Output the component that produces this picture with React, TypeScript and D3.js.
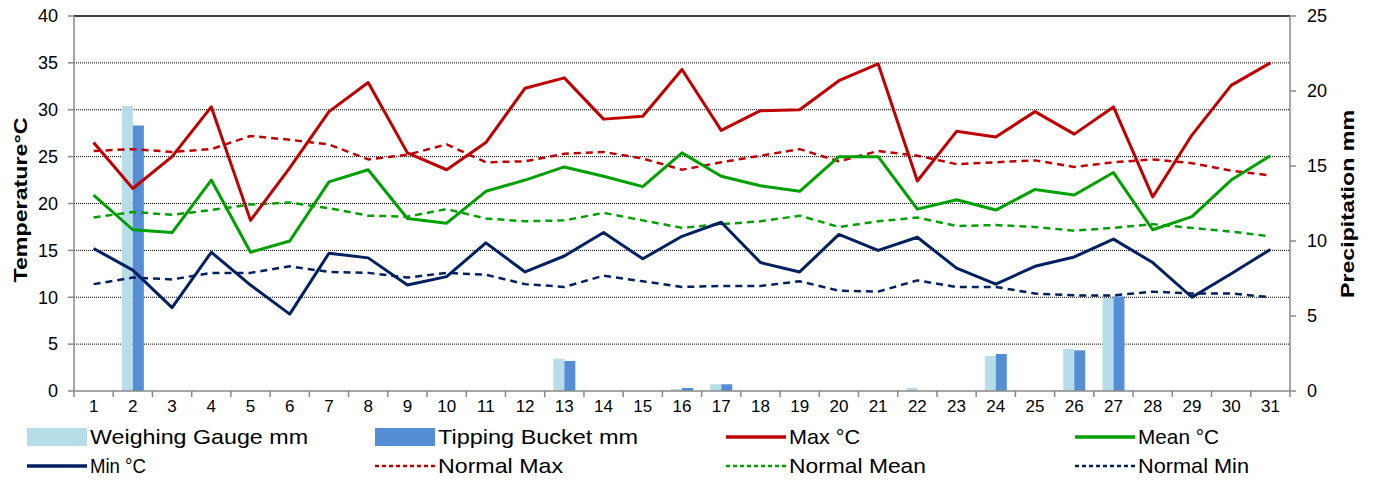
import React from "react";
import * as d3 from "d3";

const days = d3.range(1, 32).map(String);
const maxT = [26.5,21.6,25.0,30.3,18.2,23.8,29.8,32.9,25.4,23.6,26.5,32.3,33.4,29.0,29.3,34.3,27.8,29.9,30.0,33.1,34.9,22.4,27.7,27.1,29.8,27.4,30.3,20.7,27.3,32.6,35.0];
const meanT = [20.9,17.2,16.9,22.5,14.8,16.0,22.3,23.6,18.4,17.9,21.3,22.5,23.9,22.9,21.8,25.4,22.9,21.9,21.3,25.0,25.0,19.4,20.4,19.3,21.5,20.9,23.3,17.2,18.6,22.5,25.1];
const minT = [15.2,12.9,8.9,14.8,11.3,8.2,14.7,14.2,11.3,12.2,15.8,12.7,14.4,16.9,14.1,16.5,18.0,13.7,12.7,16.7,15.0,16.4,13.1,11.4,13.3,14.3,16.2,13.7,10.0,12.5,15.1];
const normMax = [25.6,25.8,25.5,25.8,27.2,26.8,26.3,24.7,25.2,26.3,24.4,24.5,25.3,25.5,24.8,23.6,24.4,25.1,25.8,24.5,25.6,25.1,24.2,24.4,24.6,23.9,24.4,24.7,24.3,23.5,23.0];
const normMean = [18.5,19.1,18.8,19.3,19.9,20.1,19.5,18.7,18.6,19.4,18.4,18.1,18.2,19.0,18.2,17.4,17.8,18.1,18.7,17.5,18.1,18.5,17.6,17.7,17.5,17.1,17.4,17.8,17.4,17.0,16.5];
const normMin = [11.4,12.1,11.9,12.6,12.6,13.3,12.7,12.6,12.1,12.6,12.4,11.4,11.1,12.3,11.7,11.1,11.2,11.2,11.7,10.7,10.6,11.8,11.1,11.1,10.4,10.2,10.2,10.6,10.4,10.4,10.0];
const weighing = [0,19.0,0,0,0,0,0,0,0,0,0,0,2.15,0,0,0.13,0.45,0,0,0,0,0.2,0,2.33,0,2.8,6.2,0,0,0,0];
const tipping = [0,17.7,0,0,0,0,0,0,0,0,0,0,2.0,0,0,0.2,0.45,0,0,0,0,0,0,2.47,0,2.71,6.3,0,0,0,0];
const tempTicks = [0,5,10,15,20,25,30,35,40];
const precTicks = [0,5,10,15,20,25];

const W = 1379, H = 483;
const L = 74, R = 1290, T = 16, B = 391;
const font = "Arial, 'Liberation Sans', sans-serif";

const C = {
  weigh: "#b7dde8", tip: "#558ed5", max: "#c00000", mean: "#00a000", min: "#002060",
};

export default function App() {
  const x = d3.scaleBand<string>().domain(days).range([L, R]).paddingInner(0).paddingOuter(0);
  const yT = d3.scaleLinear().domain([0, 40]).range([B, T]);
  const yP = d3.scaleLinear().domain([0, 25]).range([B, T]);
  const bw = 11;
  const cx = (i: number) => (x(days[i]) as number) + x.bandwidth() / 2;
  const line = d3.line<number>().x((_, i) => cx(i)).y((d) => yT(d));

  const lines = [
    { d: normMax, c: C.max, dash: "7,5", w: 2.5 },
    { d: normMean, c: C.mean, dash: "7,5", w: 2.5 },
    { d: normMin, c: C.min, dash: "7,5", w: 2.5 },
    { d: maxT, c: C.max, dash: undefined, w: 3 },
    { d: meanT, c: C.mean, dash: undefined, w: 3 },
    { d: minT, c: C.min, dash: undefined, w: 3 },
  ];

  const legend = [
    { label: "Weighing Gauge mm", type: "rect", c: C.weigh, x: 27, y: 437, len: 218 },
    { label: "Tipping Bucket mm", type: "rect", c: C.tip, x: 375, y: 437, len: 200 },
    { label: "Max °C", type: "line", c: C.max, x: 726, y: 437, len: 71 },
    { label: "Mean °C", type: "line", c: C.mean, x: 1075, y: 437, len: 81 },
    { label: "Min °C", type: "line", c: C.min, x: 27, y: 466, len: 56 },
    { label: "Normal Max", type: "dash", c: C.max, x: 375, y: 466, len: 125 },
    { label: "Normal Mean", type: "dash", c: C.mean, x: 726, y: 466, len: 137 },
    { label: "Normal Min", type: "dash", c: C.min, x: 1075, y: 466, len: 111 },
  ];

  return (
    <svg width={W} height={H} style={{ position: "absolute", left: 0, top: 0, fontFamily: font }}>
      <rect width={W} height={H} fill="#fff" />
      {tempTicks.filter((t) => t > 0 && t < 40).map((t) => (
        <line key={t} x1={L} x2={R} y1={yT(t)} y2={yT(t)} stroke="#000" strokeWidth={1} strokeDasharray="1,1" />
      ))}
      <line x1={L} x2={R} y1={T} y2={T} stroke="#000" strokeWidth={1.5} />
      {days.map((d, i) => (
        <g key={d}>
          {weighing[i] > 0 && (
            <rect x={cx(i) - bw} y={yP(weighing[i])} width={bw} height={B - yP(weighing[i])} fill={C.weigh} />
          )}
          {tipping[i] > 0 && (
            <rect x={cx(i)} y={yP(tipping[i])} width={bw} height={B - yP(tipping[i])} fill={C.tip} />
          )}
        </g>
      ))}
      {lines.map((l, k) => (
        <path key={k} d={line(l.d) || ""} fill="none" stroke={l.c} strokeWidth={l.w} strokeDasharray={l.dash} strokeLinejoin="round" />
      ))}
      <line x1={L} x2={L} y1={T} y2={B} stroke="#888" strokeWidth={1.5} />
      <line x1={R} x2={R} y1={T} y2={B} stroke="#888" strokeWidth={1.5} />
      <line x1={L} x2={R} y1={B} y2={B} stroke="#888" strokeWidth={1.5} />
      {tempTicks.map((t) => (
        <g key={t}>
          <line x1={L - 6} x2={L} y1={yT(t)} y2={yT(t)} stroke="#888" strokeWidth={1.5} />
          <text x={58} y={yT(t)} dy="0.35em" textAnchor="end" fontSize={18} fill="#000">{t}</text>
        </g>
      ))}
      {precTicks.map((t) => (
        <g key={t}>
          <line x1={R} x2={R + 6} y1={yP(t)} y2={yP(t)} stroke="#888" strokeWidth={1.5} />
          <text x={R + 17} y={yP(t)} dy="0.35em" textAnchor="start" fontSize={18} fill="#000">{t}</text>
        </g>
      ))}
      {days.map((d, i) => (
        <g key={d}>
          <line x1={x(d) as number} x2={x(d) as number} y1={B} y2={B + 6} stroke="#888" strokeWidth={1.5} />
          <text x={cx(i)} y={B + 21} textAnchor="middle" fontSize={17} fill="#000">{d}</text>
        </g>
      ))}
      <line x1={R} x2={R} y1={B} y2={B + 6} stroke="#888" strokeWidth={1.5} />
      <text transform={`translate(27,200) rotate(-90)`} textAnchor="middle" fontSize={19} fontWeight="bold" textLength={165} lengthAdjust="spacingAndGlyphs">Temperature°C</text>
      <text transform={`translate(1354,204) rotate(-90)`} textAnchor="middle" fontSize={19} fontWeight="bold" textLength={188} lengthAdjust="spacingAndGlyphs">Precipitation mm</text>
      {legend.map((g) => (
        <g key={g.label}>
          {g.type === "rect" ? (
            <rect x={g.x} y={g.y - 9} width={60} height={18} fill={g.c} />
          ) : (
            <line x1={g.x} x2={g.x + 60} y1={g.y} y2={g.y} stroke={g.c} strokeWidth={g.type === "line" ? 3.5 : 2.5} strokeDasharray={g.type === "dash" ? "4,3" : undefined} />
          )}
          <text x={g.x + 63} y={g.y} dy="0.35em" fontSize={21} fill="#000" textLength={g.len} lengthAdjust="spacingAndGlyphs">{g.label}</text>
        </g>
      ))}
    </svg>
  );
}
